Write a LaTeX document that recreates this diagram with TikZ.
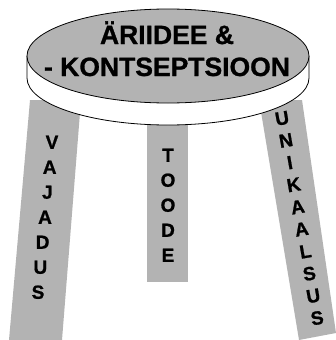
\documentclass[tikz,border=0pt]{standalone}
\usepackage{fontspec}
\setmainfont{Liberation Sans}[BoldFont={Liberation Sans Bold}, BoldFeatures={FakeBold=1}]
\usetikzlibrary{calc}
\definecolor{stoolgray}{RGB}{179,179,179}

\begin{document}
\begin{tikzpicture}[
  x=1pt, y=-1pt,
  leg/.style={fill=stoolgray, draw=none},
  rim/.style={fill=white},
  outline/.style={draw=black, line width=0.8pt},
  seat/.style={fill=stoolgray, draw=black, line width=0.8pt},
  title/.style={anchor=base, inner sep=0pt, font=\fontsize{26.5}{30}\selectfont\bfseries},
  letter/.style={inner sep=0pt, text height=13.5pt, text depth=0pt, font=\fontsize{19}{21}\selectfont\bfseries}
]
\useasboundingbox (0,0) rectangle (336,340);
% Legs: left, middle, right
\fill[leg] (30,100) -- (81,100) -- (62,340) -- (9,340) -- cycle;
\fill[leg] (147,115) rectangle (188,282);
\fill[leg] (259,100) -- (302,100) -- (336,333) -- (299,340) -- cycle;
% Seat: white rim, then grey top
\fill[rim] (27,56) -- (27,78) arc[start angle=180, end angle=0, x radius=141, y radius=47] -- (309,56) -- cycle;
\draw[outline] (27,56) -- (27,78) arc[start angle=180, end angle=0, x radius=141, y radius=47] -- (309,56);
\filldraw[seat] (168,56) ellipse [x radius=141, y radius=47];
% Seat text
\node[title] (idea) at (167,44) {ÄRIIDEE \&};
\node[title] (concept) at (167,76) {- KONTSEPTSIOON};
% Leg texts
\foreach \ch [count=\i] in {V,A,J,A,D,U,S}
  \node[letter] (need\i) at ({52-2.33*(\i-1)},{142+25*(\i-1)}) {\ch};
\foreach \ch [count=\i] in {T,O,O,D,E}
  \node[letter] (product\i) at (168,{155+25*(\i-1)}) {\ch};
\foreach \ch [count=\i] in {U,N,I,K,A,A,L,S,U,S}
  \node[letter, rotate=10] (unique\i) at ({282+3.9*(\i-1)},{118+22.2*(\i-1)}) {\ch};
\end{tikzpicture}
\end{document}
